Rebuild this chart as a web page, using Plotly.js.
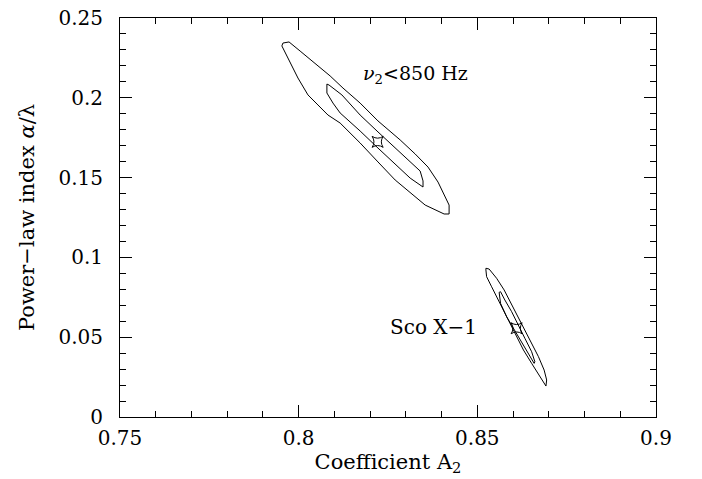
<!DOCTYPE html>
<html>
<head>
<meta charset="utf-8">
<script src="https://cdn.plot.ly/plotly-3.0.1.min.js"></script>
<style>html,body{margin:0;padding:0;background:#fff;}#chart{width:702px;height:479px;}</style>
</head>
<body>
<div id="chart"></div>
<script>
// nu2 < 850 Hz : outer (larger) confidence contour
const nuOuterX = [0.7956,0.7973,0.8004,0.8046,0.8088,0.8124,0.8172,0.8222,0.8284,0.8326,0.8362,0.8390,0.8412,0.8421,0.8421,
                  0.8407,0.8354,0.8312,0.8270,0.8222,0.8172,0.8116,0.8082,0.8054,0.8026,0.7998,0.7970,0.7953,0.7956];
const nuOuterY = [0.2343,0.2350,0.2293,0.2218,0.2137,0.2061,0.1967,0.1855,0.1736,0.1648,0.1566,0.1472,0.1372,0.1328,0.1272,
                  0.1272,0.1328,0.1404,0.1485,0.1598,0.1717,0.1842,0.1892,0.1955,0.2018,0.2124,0.2249,0.2325,0.2343];
// nu2 < 850 Hz : inner contour
const nuInnerX = [0.8079,0.8085,0.8121,0.8172,0.8222,0.8284,0.8340,0.8348,0.8348,
                  0.8312,0.8284,0.8256,0.8222,0.8172,0.8144,0.8116,0.8096,0.8079,0.8079];
const nuInnerY = [0.2086,0.2080,0.2018,0.1892,0.1786,0.1660,0.1541,0.1479,0.1441,
                  0.1497,0.1554,0.1617,0.1685,0.1792,0.1848,0.1905,0.1967,0.2030,0.2086];
const nuBestX = [0.8221];
const nuBestY = [0.1724];

// Sco X-1 : outer contour
const scoOuterX = [0.8524,0.8526,0.8540,0.8559,0.8577,0.8594,0.8610,0.8629,0.8652,0.8673,0.8687,0.8692,
                   0.8694,0.8687,0.8671,0.8652,0.8633,0.8615,0.8596,0.8575,0.8554,0.8533,0.8524,0.8524];
const scoOuterY = [0.0921,0.0879,0.0816,0.0733,0.0650,0.0576,0.0503,0.0420,0.0336,0.0263,0.0211,0.0194,
                   0.0232,0.0294,0.0378,0.0462,0.0545,0.0628,0.0712,0.0796,0.0869,0.0927,0.0932,0.0921];
// Sco X-1 : inner contour
const scoInnerX = [0.8561,0.8565,0.8582,0.8601,0.8619,0.8643,0.8659,
                   0.8661,0.8652,0.8633,0.8615,0.8596,0.8577,0.8565,0.8561];
const scoInnerY = [0.0781,0.0712,0.0628,0.0556,0.0482,0.0399,0.0336,
                   0.0346,0.0409,0.0493,0.0576,0.0660,0.0733,0.0785,0.0781];
const scoBestX = [0.8610];
const scoBestY = [0.0556];

const xTickVals = [0.75,0.8,0.85,0.9];
const xTickText = ['0.75','0.8','0.85','0.9'];
const yTickVals = [0,0.05,0.1,0.15,0.2,0.25];
const yTickText = ['0','0.05','0.1','0.15','0.2','0.25'];

const FONT = 'DejaVu Serif, serif';
const line = {color:'black', width:1};
function contour(x,y){ return {x:x, y:y, type:'scatter', mode:'lines', line:line, hoverinfo:'skip', showlegend:false}; }
function best(x,y){ return {x:x, y:y, type:'scatter', mode:'markers', marker:{symbol:'star-square-open', size:10, color:'black', line:{width:1,color:'black'}}, hoverinfo:'skip', showlegend:false}; }

const data = [
  contour(nuOuterX, nuOuterY), contour(nuInnerX, nuInnerY), best(nuBestX, nuBestY),
  contour(scoOuterX, scoOuterY), contour(scoInnerX, scoInnerY), best(scoBestX, scoBestY)
];

const axisCommon = {
  showline:true, linecolor:'black', linewidth:1, mirror:'ticks',
  ticks:'inside', ticklen:12, tickwidth:1, tickcolor:'black',
  showgrid:false, zeroline:false,
  tickfont:{family:FONT, size:20, color:'black'},
  minor:{dtick:0.01, ticks:'inside', ticklen:6, tickwidth:1, tickcolor:'black', showgrid:false}
};

const layout = {
  width:702, height:479,
  margin:{l:120, r:46, t:18, b:62},
  paper_bgcolor:'white', plot_bgcolor:'white',
  font:{family:FONT, color:'black'},
  xaxis: Object.assign({}, axisCommon, {
    range:[0.75,0.9], tickmode:'array', tickvals:xTickVals, ticktext:xTickText,
    minor:Object.assign({}, axisCommon.minor, {tick0:0.75}),
    ticklabelstandoff:3,
    title:{text:'Coefficient A<sub>2</sub>', font:{family:FONT, size:21, color:'black'}, standoff:2}
  }),
  yaxis: Object.assign({}, axisCommon, {
    range:[0,0.25], tickmode:'array', tickvals:yTickVals, ticktext:yTickText,
    minor:Object.assign({}, axisCommon.minor, {tick0:0}),
    ticklabelstandoff:12,
    title:{text:'Power\u2212law index <i>\u03b1</i>/\u03bb', font:{family:FONT, size:21, color:'black'}, standoff:18}
  }),
  annotations:[
    {x:0.8328, y:0.2143, xref:'x', yref:'y', text:'<i>\u03bd</i><sub>2</sub>&lt;850 Hz', showarrow:false,
     xanchor:'center', yanchor:'middle', font:{family:FONT, size:19, color:'black'}},
    {x:0.8376, y:0.0564, xref:'x', yref:'y', text:'Sco X\u22121', showarrow:false,
     xanchor:'center', yanchor:'middle', font:{family:FONT, size:20, color:'black'}}
  ]
};

Plotly.newPlot('chart', data, layout, {staticPlot:true, displayModeBar:false});
</script>
</body>
</html>
